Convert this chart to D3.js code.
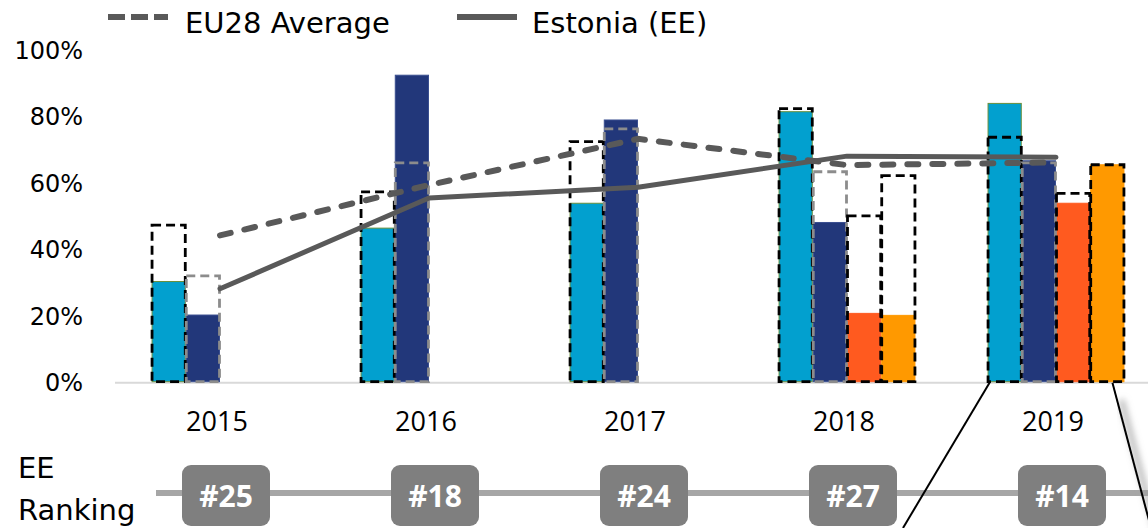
<!DOCTYPE html>
<meta charset="utf-8">
<html>

<head>
  <script src="https://d3js.org/d3.v7.min.js" charset="utf-8"></script>

  <style>
    body {
      margin: 0;
      background-color: #ffffff;
    }

    .y-axis text {
      font-family: 'DejaVu Sans', sans-serif;
      font-size: 24px;
      fill: #000000;
    }

    .y-axis path,
    .y-axis line {
      stroke-width: 0;
    }

    .x-label {
      font-family: 'Open Sans', sans-serif;
      font-size: 27px;
      fill: #000000;
    }

    .legend text,
    .rank-title {
      font-family: 'DejaVu Sans', sans-serif;
      font-size: 29px;
      fill: #000000;
    }

    .rank-text {
      font-family: 'Open Sans', sans-serif;
      font-weight: 700;
      font-size: 30px;
      fill: #ffffff;
    }
  </style>
</head>

<body>
  <script>
    //Data
    var years = ['2015', '2016', '2017', '2018', '2019'];
    var yTicks = [0, 20, 40, 60, 80, 100];

    //Estonia value per indicator (bars)
    var eeInd1 = [30.2, 46.3, 53.8, 81.4, 83.9];
    var eeInd2 = [20.1, 92.4, 78.9, 48.0, 66.6];
    var eeInd3 = [null, null, null, 20.6, 53.8];
    var eeInd4 = [null, null, null, 20.0, 65.4];

    //EU28 value per indicator (dashed outlines)
    var euInd1 = [47.2, 57.2, 72.4, 82.3, 73.7];
    var euInd2 = [31.9, 66.0, 76.2, 63.3, 66.0];
    var euInd3 = [null, null, null, 50.0, 56.8];
    var euInd4 = [null, null, null, 62.1, 65.4];

    //Overall lines
    var euAverage = [44.1, 59.3, 73.2, 65.3, 66.1];
    var estonia = [28.0, 55.4, 58.6, 68.0, 67.7];

    //Ranking
    var ranks = ['#25', '#18', '#24', '#27', '#14'];

    var barColors = ['#02a0cf', '#22377a', '#ff5a1f', '#ff9900'];
    var barStrokes = ['#6a8f3c', '#3a4f90', '#ff5a1f', '#ff9900'];
    var outlineColors = ['#000000', '#8c8c8c', '#000000', '#000000'];

    var W = 1148, H = 528;

    var svg = d3.select('body')
      .append('svg')
      .attr('width', W)
      .attr('height', H);

    //Scales
    var x0 = d3.scaleBand()
      .domain(years)
      .range([115.5, 1160.5])
      .paddingInner(0.345)
      .paddingOuter(0.1725);

    var x1 = d3.scaleBand()
      .domain([0, 1, 2, 3])
      .range([0, x0.bandwidth()]);

    var y = d3.scaleLinear()
      .domain([0, 100])
      .range([381.7, 50]);

    var cx = d => x0(d) + x0.bandwidth() / 2;

    //Y axis labels
    svg.append('g')
      .attr('class', 'y-axis')
      .attr('transform', 'translate(85, 0)')
      .call(d3.axisLeft(y)
        .tickValues(yTicks)
        .tickFormat(d => d + '%')
        .tickSize(0)
        .tickPadding(2))
      .selectAll('text')
      .attr('dy', '0.36em');

    //Baseline
    svg.append('line')
      .attr('x1', 115)
      .attr('x2', W)
      .attr('y1', y(0) + 1)
      .attr('y2', y(0) + 1)
      .attr('stroke', '#d9d9d9')
      .attr('stroke-width', 2);

    //Bars
    var eeSeries = [eeInd1, eeInd2, eeInd3, eeInd4];
    var euSeries = [euInd1, euInd2, euInd3, euInd4];

    var barData = [];
    var outlineData = [];
    eeSeries.forEach((s, k) => {
      s.forEach((v, i) => {
        if (v !== null) barData.push({ year: years[i], k: k, v: v });
      });
    });
    euSeries.forEach((s, k) => {
      s.forEach((v, i) => {
        if (v !== null) outlineData.push({ year: years[i], k: k, v: v });
      });
    });

    svg.append('g')
      .selectAll('rect')
      .data(barData)
      .enter()
      .append('rect')
      .attr('x', d => x0(d.year) + x1(d.k) + 0.5)
      .attr('width', x1.bandwidth() - 1)
      .attr('y', d => y(d.v))
      .attr('height', d => y(0) - y(d.v))
      .attr('fill', d => barColors[d.k])
      .attr('stroke', d => barStrokes[d.k])
      .attr('stroke-width', 1);

    //EU outlines
    svg.append('g')
      .selectAll('rect')
      .data(outlineData)
      .enter()
      .append('rect')
      .attr('x', d => x0(d.year) + x1(d.k) + 0.5)
      .attr('width', x1.bandwidth() - 1)
      .attr('y', d => y(d.v))
      .attr('height', d => y(0) - y(d.v))
      .attr('fill', 'none')
      .attr('stroke', d => outlineColors[d.k])
      .attr('stroke-width', 2.8)
      .attr('stroke-dasharray', '9,5');

    //Lines
    var line = d3.line()
      .x((d, i) => cx(years[i]))
      .y(d => y(d));

    svg.append('path')
      .datum(euAverage)
      .attr('d', line)
      .attr('fill', 'none')
      .attr('stroke', '#595959')
      .attr('stroke-width', 6)
      .attr('stroke-linecap', 'round')
      .attr('stroke-dasharray', '11,14');

    svg.append('path')
      .datum(estonia)
      .attr('d', line)
      .attr('fill', 'none')
      .attr('stroke', '#595959')
      .attr('stroke-width', 5)
      .attr('stroke-linecap', 'round')
      .attr('stroke-linejoin', 'round');

    //Legend
    var legend = svg.append('g').attr('class', 'legend');
    legend.append('line')
      .attr('x1', 108).attr('x2', 168)
      .attr('y1', 17).attr('y2', 17)
      .attr('stroke', '#595959')
      .attr('stroke-width', 6)
      .attr('stroke-dasharray', '17,6');
    legend.append('text')
      .attr('x', 185).attr('y', 33)
      .text('EU28 Average');
    legend.append('line')
      .attr('x1', 457).attr('x2', 517)
      .attr('y1', 17).attr('y2', 17)
      .attr('stroke', '#595959')
      .attr('stroke-width', 6);
    legend.append('text')
      .attr('x', 532).attr('y', 33)
      .text('Estonia (EE)');

    //Year labels
    svg.append('g')
      .selectAll('text')
      .data(years)
      .enter()
      .append('text')
      .attr('class', 'x-label')
      .attr('x', d => cx(d) - 3)
      .attr('y', 431)
      .attr('text-anchor', 'middle')
      .text(d => d);

    //Ranking row
    svg.append('text')
      .attr('class', 'rank-title')
      .attr('x', 18).attr('y', 478)
      .text('EE');
    svg.append('text')
      .attr('class', 'rank-title')
      .attr('x', 18).attr('y', 520)
      .text('Ranking');

    svg.append('line')
      .attr('x1', 156).attr('x2', W)
      .attr('y1', 493).attr('y2', 493)
      .attr('stroke', '#a6a6a6')
      .attr('stroke-width', 6);

    var rankG = svg.append('g')
      .selectAll('g')
      .data(ranks)
      .enter()
      .append('g')
      .attr('transform', (d, i) => `translate(${cx(years[i]) + 6}, 0)`);

    rankG.append('rect')
      .attr('x', -44)
      .attr('y', 465)
      .attr('width', 88)
      .attr('height', 61)
      .attr('rx', 9)
      .attr('fill', '#7f7f7f');

    rankG.append('text')
      .attr('class', 'rank-text')
      .attr('x', 0)
      .attr('y', 507)
      .attr('text-anchor', 'middle')
      .text(d => d);

    //Callout lines from the 2019 group
    var defs = svg.append('defs');
    defs.append('filter')
      .attr('id', 'blur')
      .append('feGaussianBlur')
      .attr('stdDeviation', 3);

    var gx = x0('2019');
    var rx1 = gx + x0.bandwidth() - 12;

    svg.append('line')
      .attr('x1', rx1 + 9).attr('y1', y(0) + 18)
      .attr('x2', 1158).attr('y2', H + 10)
      .attr('stroke', '#a0a0a0')
      .attr('stroke-opacity', 0.7)
      .attr('stroke-width', 6)
      .attr('filter', 'url(#blur)');

    svg.append('line')
      .attr('x1', gx + 2).attr('y1', y(0) + 1)
      .attr('x2', 903).attr('y2', H)
      .attr('stroke', '#000000')
      .attr('stroke-width', 2);

    svg.append('line')
      .attr('x1', rx1).attr('y1', y(0) + 1)
      .attr('x2', 1151).attr('y2', H)
      .attr('stroke', '#000000')
      .attr('stroke-width', 2);
  </script>
</body>

</html>
